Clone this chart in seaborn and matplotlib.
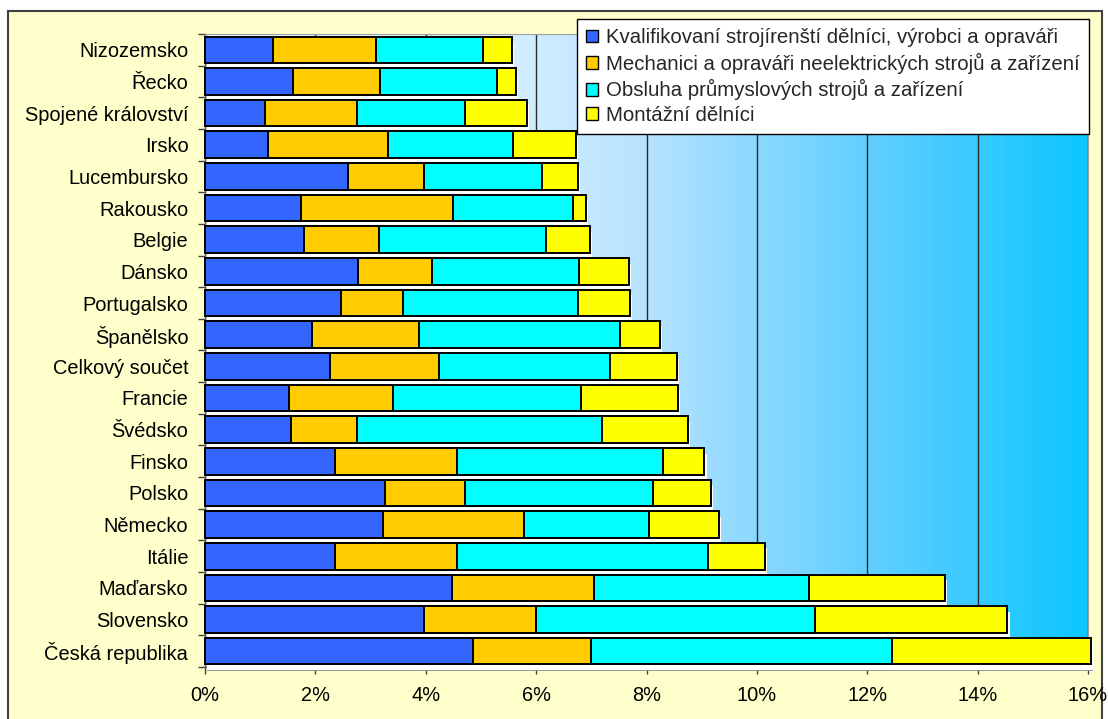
import numpy as np
import matplotlib.pyplot as plt
import matplotlib.patheffects as pe
from matplotlib.patches import Patch, Rectangle
from matplotlib.colors import LinearSegmentedColormap
from matplotlib.ticker import PercentFormatter
import seaborn as sns

countries = ['Nizozemsko', 'Řecko', 'Spojené království', 'Irsko', 'Lucembursko',
             'Rakousko', 'Belgie', 'Dánsko', 'Portugalsko', 'Španělsko',
             'Celkový součet', 'Francie', 'Švédsko', 'Finsko', 'Polsko',
             'Německo', 'Itálie', 'Maďarsko', 'Slovensko', 'Česká republika']

kvalifikovani = [1.24, 1.60, 1.09, 1.15, 2.59, 1.74, 1.80, 2.77, 2.47, 1.94,
                 2.27, 1.52, 1.56, 2.36, 3.27, 3.23, 2.36, 4.47, 3.97, 4.85]
mechanici = [1.85, 1.57, 1.67, 2.17, 1.38, 2.76, 1.36, 1.35, 1.12, 1.94,
             1.97, 1.89, 1.20, 2.20, 1.44, 2.55, 2.20, 2.58, 2.02, 2.15]
obsluha = [1.94, 2.13, 1.95, 2.26, 2.14, 2.17, 3.01, 2.66, 3.17, 3.64,
           3.10, 3.41, 4.44, 3.73, 3.40, 2.27, 4.55, 3.90, 5.06, 5.45]
montazni = [0.53, 0.34, 1.13, 1.15, 0.65, 0.24, 0.80, 0.90, 0.94, 0.73,
            1.21, 1.75, 1.55, 0.76, 1.05, 1.26, 1.03, 2.45, 3.49, 3.61]

series_names = ['Kvalifikovaní strojírenští dělníci, výrobci a opraváři',
                'Mechanici a opraváři neelektrických strojů a zařízení',
                'Obsluha průmyslových strojů a zařízení',
                'Montážní dělníci']
colors = ['#3366FF', '#FFCC00', '#00FFFF', '#FFFF00']

sns.set_style('white')
plt.rcParams['font.family'] = ['Liberation Sans', 'DejaVu Sans']

fig = plt.figure(figsize=(11.08, 7.19), dpi=100, facecolor='white')
fig.add_artist(Rectangle((8 / 1108, -0.05), 1094 / 1108, (719 - 11) / 719 + 0.05,
                         transform=fig.transFigure, facecolor='#FFFFCC',
                         edgecolor='#404040', lw=1.5, zorder=-10))
ax = fig.add_axes([205 / 1108, 52 / 719, 883 / 1108, 633 / 719])

# gradient background of the plot area
grad = LinearSegmentedColormap.from_list('bg', [
    (0.0, '#F2F9FF'), (0.35, '#D4EEFF'), (0.5, '#B6E3FF'), (0.625, '#8CD8FF'),
    (0.75, '#62CFFF'), (0.875, '#38CAFF'), (1.0, '#0CC6FF')])
ax.imshow(np.linspace(0, 1, 256)[None, :], cmap=grad, aspect='auto',
          extent=(0, 16, 19.5, -0.5), zorder=0)

# stacked bars: draw cumulative totals from the largest down
stack = np.cumsum([kvalifikovani, mechanici, obsluha, montazni], axis=0)
for i in [3, 2, 1, 0]:
    sns.barplot(x=stack[i], y=countries, orient='h', color=colors[i],
                saturation=1, width=0.84, edgecolor='black', linewidth=1.4,
                ax=ax, zorder=3)
    if i == 3:
        for bar in ax.patches:
            bar.set_path_effects([
                pe.SimplePatchShadow(offset=(1.5, -5), shadow_rgbFace='#9a9a9a', alpha=1),
                pe.SimplePatchShadow(offset=(1.5, -4), shadow_rgbFace='white', alpha=1),
                pe.Normal()])
for bar in ax.patches:
    bar.set_clip_on(False)

ax.set_xlim(0, 16)
ax.set_ylim(19.5, -0.5)
ax.set_xlabel('')
ax.set_ylabel('')
ax.set_xticks(np.arange(0, 17, 2))
ax.xaxis.set_major_formatter(PercentFormatter(decimals=0))
ax.xaxis.grid(True, color='#2a2a2a', lw=1)
ax.yaxis.grid(False)
ax.set_axisbelow(True)

ax.set_yticks(np.arange(-0.5, 20, 1), minor=True)
ax.tick_params(axis='y', which='major', length=0, pad=12, labelsize=14.4, labelcolor='black')
ax.tick_params(axis='y', which='minor', left=True, length=5, width=1, color='#404040')
ax.tick_params(axis='x', which='major', bottom=True, length=5, width=1, color='#404040',
               pad=9, labelsize=14.4, labelcolor='black')

for side in ['left', 'bottom']:
    ax.spines[side].set_color('#606060')
    ax.spines[side].set_linewidth(1)
for side in ['top', 'right']:
    ax.spines[side].set_color('#a0a0a0')
    ax.spines[side].set_linewidth(0.8)

handles = [Patch(facecolor=c, edgecolor='black', lw=1) for c in colors]
leg = fig.legend(handles, series_names, loc='upper left',
                 bbox_to_anchor=(577 / 1108, 1 - 19 / 719), borderaxespad=0,
                 fontsize=14.7, handlelength=0.6, handleheight=0.6,
                 handletextpad=0.35, labelspacing=0.27, borderpad=0.45,
                 fancybox=False, framealpha=1, edgecolor='black')
leg.get_frame().set_linewidth(1)
leg.set_zorder(5)

fig.savefig('out.png', dpi=100)
